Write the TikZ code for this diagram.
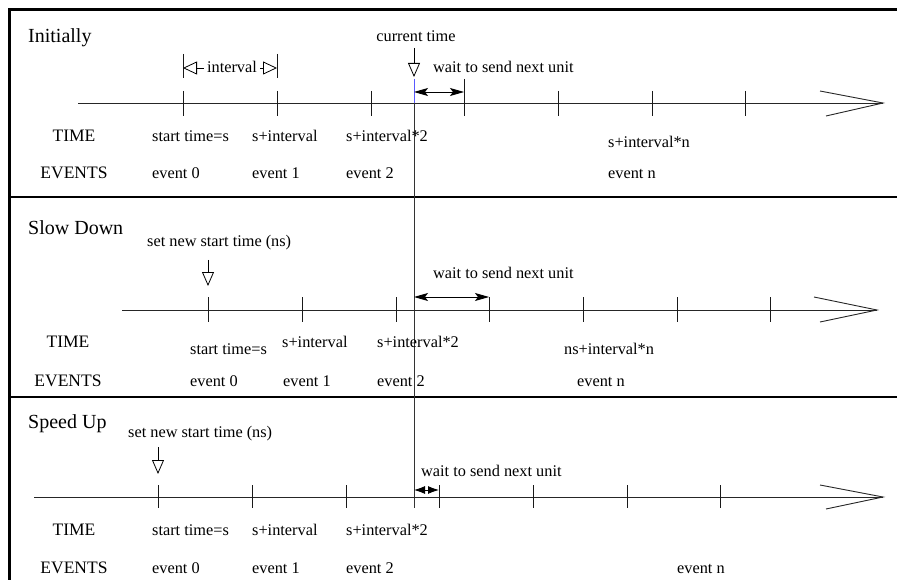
\documentclass[tikz,border=0pt]{standalone}
\usepackage{fontspec}
\setmainfont{Liberation Serif}
\usetikzlibrary{arrows.meta}
\begin{document}
\begin{tikzpicture}[x=1pt,y=-1pt,
  every node/.style={inner sep=0pt},
  small/.style={font=\fontsize{16.3}{19}\selectfont, anchor=base west},
  rowhead/.style={font=\fontsize{17.5}{21}\selectfont, anchor=base},
  paneltitle/.style={font=\fontsize{20}{24}\selectfont, anchor=base west},
  axis/.style={line width=0.9pt, black!85},
  tick/.style={line width=0.9pt, black!90},
  frame/.style={line width=3pt},
  divider/.style={line width=1.6pt},
  pointer/.style={line width=0.8pt, -{Triangle[open,length=14pt,width=12pt]}},
  waitarrow/.style={line width=0.9pt,
    {Stealth[length=14pt,width=8pt,inset=3pt]}-{Stealth[length=14pt,width=8pt,inset=3pt]}},
  shortwait/.style={line width=0.9pt,
    {Latex[length=11pt,width=8pt]}-{Latex[length=11pt,width=8pt]}},
  span/.style={line width=0.8pt, -{Triangle[open,length=14pt,width=13pt]}},
]
\useasboundingbox (0,0) rectangle (897,580);

% outer frame and panel dividers
\draw[frame] (9,580) -- (9,10) -- (897,10);
\draw[divider] (9,197) -- (897,197);
\draw[divider] (9,397) -- (897,397);

% ---------------- Initially ----------------
\node[paneltitle] (t1) at (28,43) {Initially};
\coordinate (a1s) at (78,103);
\coordinate (a1e) at (883,103);
\draw[axis] (a1s) -- (a1e);
\draw[axis] (820,91) -- (a1e) -- (826,116);
\foreach \x in {183,277,371,558,652,745} \draw[tick] (\x,91) -- (\x,116);
\draw[tick] (464,79) -- (464,116);

% interval dimension
\coordinate (ivL) at (183,68);
\coordinate (ivR) at (277,68);
\draw[tick] (183,54) -- (183,78);
\draw[tick] (277,54) -- (277,78);
\node[small, anchor=base, inner xsep=3pt] (iv) at (232,73) {interval};
\draw[span] (iv.west |- ivL) -- (ivL);
\draw[span] (iv.east |- ivR) -- (ivR);

% current time marker
\node[small, anchor=base] (ct) at (416,42) {current time};
\coordinate (ctTop) at (414,48);
\coordinate (ctTip) at (414,77);
\draw[pointer] (ctTop) -- (ctTip);
\coordinate (nowA) at (414,79);
\coordinate (nowB) at (414,103);
\coordinate (nowC) at (414,508);
\draw[line width=1pt, blue!65] (nowA) -- (nowB);
\draw[line width=1pt, black!80] (nowB) -- (nowC);

% wait interval
\node[small] (w1) at (433,73) {wait to send next unit};
\coordinate (w1a) at (414,92);
\coordinate (w1b) at (464,92);
\draw[waitarrow] (w1a) -- (w1b);

% rows
\node[rowhead] (time1) at (74,142) {TIME};
\node[rowhead] (ev1) at (74,179) {EVENTS};
\node[small] (p1t0) at (152,142) {start time=s};
\node[small] (p1t1) at (252,142) {s+interval};
\node[small] (p1t2) at (346,142) {s+interval*2};
\node[small] (p1tn) at (608,148) {s+interval*n};
\node[small] (p1e0) at (152,179) {event 0};
\node[small] (p1e1) at (252,179) {event 1};
\node[small] (p1e2) at (346,179) {event 2};
\node[small] (p1en) at (608,179) {event n};

% ---------------- Slow Down ----------------
\node[paneltitle] (t2) at (28,235) {Slow Down};
\node[small] (ns2) at (147,247) {set new start time (ns)};
\coordinate (ns2a) at (208,260);
\coordinate (ns2b) at (208,286);
\draw[pointer] (ns2a) -- (ns2b);
\coordinate (a2s) at (122,310);
\coordinate (a2e) at (877,310);
\draw[axis] (a2s) -- (a2e);
\draw[axis] (814,297) -- (a2e) -- (820,322);
\foreach \x in {208,302,396,489,583,677,770} \draw[tick] (\x,297) -- (\x,322);

\node[small] (w2) at (433,279) {wait to send next unit};
\coordinate (w2a) at (414,297);
\coordinate (w2b) at (489,297);
\draw[waitarrow] (w2a) -- (w2b);

\node[rowhead] (time2) at (68,347) {TIME};
\node[rowhead] (ev2) at (68,386) {EVENTS};
\node[small] (p2t0) at (190,354) {start time=s};
\node[small] (p2t1) at (282,347) {s+interval};
\node[small] (p2t2) at (377,347) {s+interval*2};
\node[small] (p2tn) at (564,354) {ns+interval*n};
\node[small] (p2e0) at (190,386) {event 0};
\node[small] (p2e1) at (283,386) {event 1};
\node[small] (p2e2) at (377,386) {event 2};
\node[small] (p2en) at (577,386) {event n};

% ---------------- Speed Up ----------------
\node[paneltitle] (t3) at (28,428) {Speed Up};
\node[small] (ns3) at (128,437) {set new start time (ns)};
\coordinate (ns3a) at (158,447);
\coordinate (ns3b) at (158,474);
\draw[pointer] (ns3a) -- (ns3b);
\coordinate (a3s) at (34,497);
\coordinate (a3e) at (883,497);
\draw[axis] (a3s) -- (a3e);
\draw[axis] (820,485) -- (a3e) -- (826,509);
\foreach \x in {158,252,346,439,533,627,720} \draw[tick] (\x,485) -- (\x,508);

\node[small] (w3) at (421,476) {wait to send next unit};
\coordinate (w3a) at (414,490);
\coordinate (w3b) at (439,490);
\draw[shortwait] (w3a) -- (w3b);

\node[rowhead] (time3) at (74,535) {TIME};
\node[rowhead] (ev3) at (74,573) {EVENTS};
\node[small] (p3t0) at (152,535) {start time=s};
\node[small] (p3t1) at (252,535) {s+interval};
\node[small] (p3t2) at (346,535) {s+interval*2};
\node[small] (p3e0) at (152,573) {event 0};
\node[small] (p3e1) at (252,573) {event 1};
\node[small] (p3e2) at (346,573) {event 2};
\node[small] (p3en) at (677,573) {event n};
\end{tikzpicture}
\end{document}
